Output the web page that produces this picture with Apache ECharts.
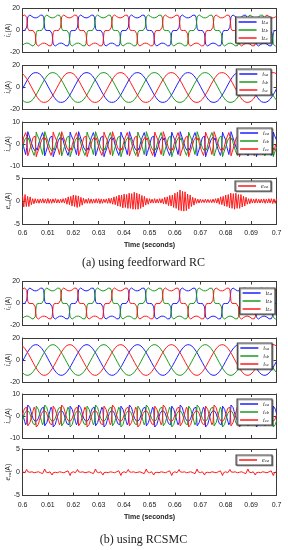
<!DOCTYPE html>
<html><head><meta charset="utf-8">
<script src="https://cdn.jsdelivr.net/npm/echarts@6/dist/echarts.min.js"></script>
<style>html,body{margin:0;padding:0;background:#fff}#c{width:288px;height:550px}</style>
</head><body><div id="c"></div>
<script>
// ---- time base ----
const T0 = 0.6;            // s
const PERIOD = 0.02;       // s (50 Hz)
const CYCLES = 5;
const timeTicks = [0.6, 0.7, 0.01];   // min, max, step

// ---- one fundamental cycle of phase a (48 samples, 7.5 deg each) ----
// load current i_La (same in both cases)
const loadCycle = [0,0,0,0.2,3,12.5,14,14.1,13.5,12.7,12,11.6,11.4,11.5,11.8,12.4,13.2,13.9,14.2,13.9,12,2,0.1,0,
  0,0,0,-0.2,-3,-12.5,-14,-14.1,-13.5,-12.7,-12,-11.6,-11.4,-11.5,-11.8,-12.4,-13.2,-13.9,-14.2,-13.9,-12,-2,-0.1,0];
// source current i_sa, feedforward RC (slightly noisy near peaks)
const srcCycleA = [-1.2,0.6,2.4,4.2,5.9,7.5,9.0,10.3,11.5,12.6,13.0,14.2,13.5,14.6,13.4,13.9,12.5,11.9,10.7,9.5,8.0,6.5,4.8,3.0,
  1.2,-0.6,-2.4,-4.2,-5.9,-7.5,-9.0,-10.3,-11.5,-12.6,-13.0,-14.2,-13.5,-14.6,-13.4,-13.9,-12.5,-11.9,-10.7,-9.5,-8.0,-6.5,-4.8,-3.0];
// source current i_sa, RCSMC (clean)
const srcCycleB = [-1.2,0.6,2.4,4.2,5.9,7.5,9.0,10.3,11.5,12.4,13.2,13.7,13.9,14.0,13.8,13.4,12.7,11.8,10.7,9.5,8.0,6.5,4.8,3.0,
  1.2,-0.6,-2.4,-4.2,-5.9,-7.5,-9.0,-10.3,-11.5,-12.4,-13.2,-13.7,-13.9,-14.0,-13.8,-13.4,-12.7,-11.8,-10.7,-9.5,-8.0,-6.5,-4.8,-3.0];
// compensating current i_ca, feedforward RC
const compCycleA = [1.8,-1.2,-2.0,-4.8,-1.6,5.6,4.2,4.4,1.2,1.0,-1.8,-1.4,-3.2,-1.8,-2.8,-0.4,0.0,2.8,2.9,5.2,3.4,-5.4,-3.9,-3.6,
  -0.6,0.0,3.0,3.4,3.6,-5.8,-4.2,-4.6,-1.4,-1.0,1.8,1.4,3.2,1.8,2.8,0.4,0.2,-2.8,-2.9,-5.2,-3.4,5.4,4.0,3.6];
// compensating current i_ca, RCSMC
const compCycleB = [1.2,-0.6,-2.4,-4.0,-2.9,5.0,5.0,3.8,2.0,0.3,-1.2,-2.1,-2.5,-2.5,-2.0,-1.0,0.5,2.1,3.5,4.4,4.0,-4.5,-4.7,-3.0,
  -1.2,0.6,2.4,4.0,2.9,-5.0,-5.0,-3.8,-2.0,-0.3,1.2,2.1,2.5,2.5,2.0,1.0,-0.5,-2.1,-3.5,-4.4,-4.0,4.5,4.7,3.0];
// tracking error e_ca, RCSMC
const errCycleB = [0.1,0,-0.1,-0.3,0.6,0.1,-0.1,0,0.1,0.1,0,-0.1,-0.1,0,0.1,0.1,0,-0.1,-0.2,-0.3,-0.6,0.7,0.1,0,
  -0.1,0,0.1,0.3,-0.6,-0.1,0.1,0,-0.1,-0.1,0,0.1,0.1,0,-0.1,-0.1,0,0.1,0.2,0.3,0.6,-0.7,-0.1,0];
// tracking error e_ca, feedforward RC: upper / lower swing every 1 ms from 0.600 to 0.700 s
const errUpperA = [1.2,1.4,1.0,0.9,0.5,0.5,0.4,0.45,0.5,0.4,
  0.55,0.4,0.45,0.5,0.35,0.4,0.5,0.6,0.9,1.0,
  1.3,1.2,1.1,0.8,0.6,0.4,0.55,0.45,0.4,0.5,
  0.5,0.45,0.4,0.45,0.6,0.6,0.9,1.0,1.3,1.3,
  1.5,1.4,1.7,1.6,1.9,1.7,1.5,1.2,1.0,0.6,
  0.5,0.4,0.5,0.4,0.5,0.5,0.8,0.9,1.2,1.3,
  1.7,1.9,2.4,2.1,2.0,1.5,1.3,0.8,0.6,0.4,
  0.4,0.3,0.4,0.35,0.3,0.4,0.5,0.6,0.9,1.0,
  1.3,1.4,1.7,1.6,1.7,1.4,1.4,1.0,0.8,0.5,
  0.5,0.4,0.5,0.4,0.4,0.45,0.4,0.5,0.5,0.45,0.5];
const errLowerA = [-1.3,-1.2,-1.2,-0.8,-0.6,-0.45,-0.5,-0.4,-0.45,-0.5,
  -0.5,-0.5,-0.4,-0.45,-0.45,-0.35,-0.45,-0.7,-0.8,-1.1,
  -1.2,-1.4,-1.2,-0.9,-0.5,-0.5,-0.5,-0.5,-0.45,-0.45,
  -0.55,-0.5,-0.35,-0.5,-0.5,-0.7,-0.8,-1.1,-1.2,-1.5,
  -1.4,-1.6,-1.6,-1.8,-1.8,-1.8,-1.6,-1.3,-0.9,-0.7,
  -0.45,-0.45,-0.45,-0.45,-0.45,-0.6,-0.7,-1.0,-1.1,-1.4,
  -1.6,-2.0,-2.1,-2.2,-2.1,-1.7,-1.2,-0.9,-0.5,-0.45,
  -0.35,-0.35,-0.35,-0.35,-0.4,-0.35,-0.45,-0.7,-0.8,-1.1,
  -1.2,-1.5,-1.6,-1.8,-1.6,-1.6,-1.3,-1.1,-0.7,-0.6,
  -0.45,-0.45,-0.45,-0.45,-0.4,-0.5,-0.45,-0.45,-0.55,-0.5,-0.45];

// ---- axis ranges (symmetric limit) and labels ----
const yLimits = [20, 20, 10, 5, 20, 20, 10, 5];
const ySymbols = [['i','L'],['i','s'],['i','ca'],['e','ca'],['i','L'],['i','s'],['i','ca'],['e','ca']];
const legendSubs = [['La','Lb','Lc'],['sa','sb','sc'],['ca','cb','cc'],['ca'],['La','Lb','Lc'],['sa','sb','sc'],['ca','cb','cc'],['ca']];
const captions = ['(a) using feedforward RC', '(b) using RCSMC'];
const xTitle = 'Time (seconds)';
const phaseColors = ['#1f1fff', '#1d9a1d', '#ff1a1a'];

// ---- layout ----
const grids = [
  {top: 8.5, h: 44}, {top: 65.5, h: 44}, {top: 122, h: 44}, {top: 178, h: 46},
  {top: 281.5, h: 44}, {top: 338, h: 44}, {top: 394, h: 44}, {top: 449, h: 46.5}
];
const legendPos = [
  {right: 17, top: 17}, {right: 17, top: 69}, {right: 16, top: 128}, {right: 17, top: 181},
  {right: 13, top: 288}, {right: 16, top: 343}, {right: 16, top: 399}, {right: 16, top: 455}
];

// ---- build series data from the read cycles ----
const N = loadCycle.length;      // samples per cycle
const SHIFT = N / 3;             // 120 degrees
function tile(cycle, shift) {
  const out = [];
  for (let k = 0; k <= N * CYCLES; k++) {
    const idx = (((k - shift) % N) + N) % N;
    out.push([T0 + k * PERIOD / N, cycle[idx]]);
  }
  return out;
}
function interleave(up, lo) {
  const out = [];
  for (let i = 0; i < up.length; i++) {
    out.push([T0 + i * 0.001, up[i]]);
    if (i < up.length - 1) out.push([T0 + i * 0.001 + 0.0005, lo[i]]);
  }
  return out;
}
const three = (c) => [tile(c, 0), tile(c, SHIFT), tile(c, -SHIFT)];
const plotData = [
  three(loadCycle), three(srcCycleA), three(compCycleA), [interleave(errUpperA, errLowerA)],
  three(loadCycle), three(srcCycleB), three(compCycleB), [tile(errCycleB, 0)]
];

const frame = '#3a3a3a';
const option = {
  animation: false,
  backgroundColor: '#fff',
  grid: [], xAxis: [], yAxis: [], series: [], legend: [], graphic: []
};

grids.forEach((g, i) => {
  option.grid.push({left: 22.5, right: 11.5, top: g.top, height: g.h, containLabel: false, outerBoundsMode: 'none'});
  const showX = (i === 3 || i === 7);
  const baseX = {
    type: 'value', gridIndex: i, min: timeTicks[0], max: timeTicks[1], interval: timeTicks[2],
    axisLine: {show: true, onZero: false, lineStyle: {color: frame, width: 1}},
    axisTick: {show: true, inside: true, length: 3, lineStyle: {color: frame, width: 1}},
    splitLine: {show: false}
  };
  option.xAxis.push(Object.assign({}, baseX, {
    position: 'bottom',
    axisLabel: {show: showX, fontSize: 7, color: '#222', margin: 6, fontFamily: 'Liberation Sans',
      showMinLabel: true, showMaxLabel: true},
    name: showX ? xTitle : '', nameLocation: 'middle', nameGap: 18, nameMoveOverlap: false,
    nameTextStyle: {fontSize: 7, fontWeight: 'bold', color: '#222', fontFamily: 'Liberation Sans'}
  }));
  option.xAxis.push(Object.assign({}, baseX, {position: 'top', axisLabel: {show: false}}));
  const lim = yLimits[i];
  const sym = ySymbols[i];
  const baseY = {
    type: 'value', gridIndex: i, min: -lim, max: lim, interval: lim,
    axisLine: {show: true, onZero: false, lineStyle: {color: frame, width: 1}},
    axisTick: {show: true, inside: true, length: 3, lineStyle: {color: frame, width: 1}},
    splitLine: {show: false}
  };
  option.yAxis.push(Object.assign({}, baseY, {
    position: 'left',
    axisLabel: {show: true, fontSize: 7, color: '#222', margin: 2.5, fontFamily: 'Liberation Sans',
      showMinLabel: true, showMaxLabel: true},
    name: '{v|' + sym[0] + '}{s|' + sym[1] + '}{t|(A)}',
    nameLocation: 'middle', nameRotate: 90, nameGap: 10, nameMoveOverlap: false,
    nameTextStyle: {
      rich: {
        v: {fontSize: 7.5, fontStyle: 'italic', fontFamily: 'Liberation Serif', color: '#111'},
        s: {fontSize: 5, fontStyle: 'italic', fontFamily: 'Liberation Serif', color: '#111', verticalAlign: 'bottom'},
        t: {fontSize: 6.5, fontFamily: 'Liberation Sans', color: '#111'}
      }
    }
  }));
  option.yAxis.push(Object.assign({}, baseY, {position: 'right', axisLabel: {show: false}}));

  const names = [];
  plotData[i].forEach((d, p) => {
    const color = plotData[i].length === 1 ? phaseColors[2] : phaseColors[p];
    const name = 'P' + i + ':' + sym[0] + ':' + legendSubs[i][p];
    names.push(name);
    option.series.push({
      type: 'line', name: name, xAxisIndex: 2 * i, yAxisIndex: 2 * i,
      data: d, showSymbol: false, symbol: 'none', smooth: false,
      color: color, itemStyle: {color: color},
      lineStyle: {color: color, width: 1}, clip: true, silent: true
    });
  });
  option.legend.push({
    data: names, orient: 'vertical', right: legendPos[i].right, top: legendPos[i].top,
    selectedMode: false, icon: 'rect', itemWidth: 18, itemHeight: 1.5, itemGap: 1,
    padding: [1.5, 3, 1.5, 3],
    backgroundColor: '#fff', borderColor: '#444', borderWidth: 1.2,
    shadowColor: 'rgba(0,0,0,0.35)', shadowOffsetX: 1, shadowOffsetY: 1, shadowBlur: 0,
    formatter: (n) => { const p = n.split(':'); return '{v|' + p[1] + '}{s|' + p[2] + '}'; },
    textStyle: {
      color: '#111', lineHeight: 7,
      rich: {
        v: {fontSize: 6, fontStyle: 'italic', fontFamily: 'Liberation Serif', color: '#111', lineHeight: 7},
        s: {fontSize: 4.5, fontStyle: 'italic', fontFamily: 'Liberation Serif', color: '#111', verticalAlign: 'bottom', lineHeight: 7}
      }
    }
  });
});

option.graphic = [
  {type: 'text', x: 143.5, y: 262.7, style: {text: captions[0], textAlign: 'center', textVerticalAlign: 'middle',
    fontSize: 12, fontFamily: 'Liberation Serif', fill: '#222'}},
  {type: 'text', x: 143.5, y: 540, style: {text: captions[1], textAlign: 'center', textVerticalAlign: 'middle',
    fontSize: 12, fontFamily: 'Liberation Serif', fill: '#222'}}
];

const chart = echarts.init(document.getElementById('c'), null, {renderer: 'canvas'});
chart.setOption(option);
</script>
</body></html>
